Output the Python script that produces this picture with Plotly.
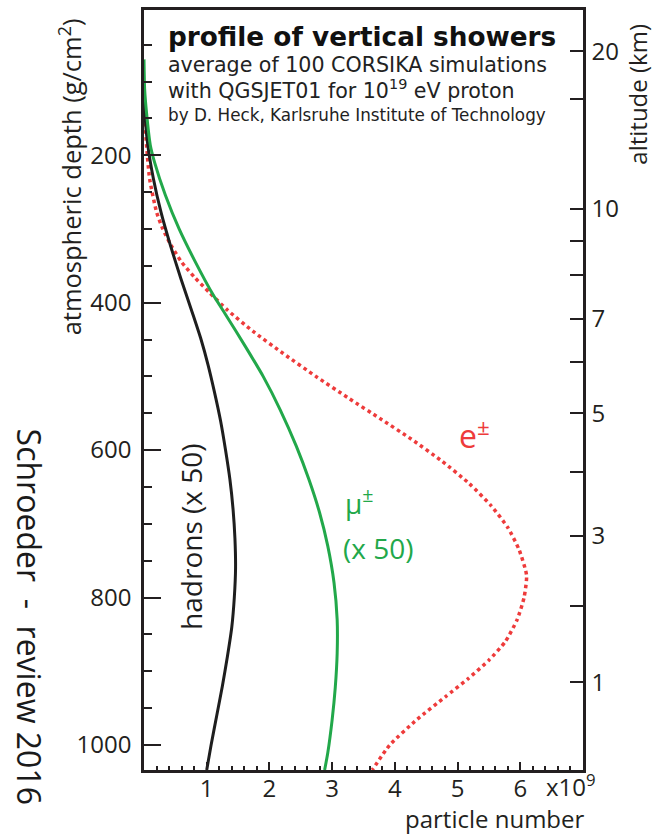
import plotly.graph_objects as go

# Longitudinal profiles of vertical 10^19 eV proton showers
# (particle number in units of 10^9 versus atmospheric depth in g/cm^2)

electron_depth = [128, 160, 186, 232, 277, 300, 322, 345, 365, 386, 410, 439, 469,
                  500, 530, 557, 585, 615, 645, 675, 705, 735, 770, 800, 830, 860,
                  885, 910, 935, 965, 1000, 1034]
electron_number = [0.00, 0.02, 0.04, 0.09, 0.20, 0.30, 0.43, 0.60, 0.80, 1.04, 1.33,
                   1.74, 2.22, 2.74, 3.27, 3.76, 4.26, 4.75, 5.18, 5.53, 5.80, 5.98,
                   6.10, 6.06, 5.95, 5.76, 5.50, 5.17, 4.80, 4.36, 3.92, 3.64]

muon_depth = [70, 110, 142, 186, 210, 254, 300, 345, 389, 416, 460, 500, 545, 595,
              640, 685, 730, 780, 830, 876, 922, 966, 1011, 1034]
muon_number_x50 = [0.00, 0.01, 0.04, 0.10, 0.17, 0.34, 0.56, 0.82, 1.10, 1.30, 1.62,
                   1.90, 2.17, 2.43, 2.63, 2.80, 2.93, 3.03, 3.08, 3.08, 3.05, 3.00,
                   2.93, 2.88]

hadron_depth = [110, 150, 186, 232, 277, 322, 368, 416, 450, 484, 520, 560, 600, 640,
                680, 720, 760, 800, 840, 880, 920, 960, 1000, 1034]
hadron_number_x50 = [0.00, 0.02, 0.06, 0.15, 0.27, 0.42, 0.59, 0.78, 0.91, 1.02, 1.12,
                     1.22, 1.30, 1.37, 1.42, 1.45, 1.46, 1.44, 1.40, 1.33, 1.25, 1.16,
                     1.07, 1.00]

# altitude scale (km) and the corresponding atmospheric depth (g/cm^2)
altitude_km = [20, 15, 10, 9, 8, 7, 6, 5, 4, 3, 2, 1]
altitude_depth = [59, 124, 273, 316, 362, 422, 481, 550, 630, 716, 811, 915]
altitude_labels = ["20", "", "10", "", "", "7", "", "5", "", "3", "", "1"]

depth_ticks = [200, 400, 600, 800, 1000]
number_ticks = [1, 2, 3, 4, 5, 6]

DEPTH_RANGE = [1034, 3]
NUMBER_RANGE = [0, 7]

INK = "#231f20"
RED = "#ee3b3b"
GREEN = "#22a84a"
BLACK = "#1e1e1e"
AXIS_FONT = "Open Sans"
HEAD_FONT = "DejaVu Sans"

fig = go.Figure()

fig.add_trace(go.Scatter(
    x=electron_number, y=electron_depth, mode="lines",
    line=dict(color=RED, width=3.5, dash="3.5px,3.5px", shape="spline", smoothing=0.6),
    hoverinfo="skip", showlegend=False))
fig.add_trace(go.Scatter(
    x=hadron_number_x50, y=hadron_depth, mode="lines",
    line=dict(color=BLACK, width=3, shape="spline", smoothing=0.6),
    hoverinfo="skip", showlegend=False))
fig.add_trace(go.Scatter(
    x=muon_number_x50, y=muon_depth, mode="lines",
    line=dict(color=GREEN, width=3, shape="spline", smoothing=0.6),
    hoverinfo="skip", showlegend=False))
# carrier trace for the altitude axis
fig.add_trace(go.Scatter(x=[None], y=[None], yaxis="y2", mode="lines",
                         hoverinfo="skip", showlegend=False))

tick_font = dict(family=AXIS_FONT, size=24, color=INK)

fig.update_layout(
    width=663, height=836,
    margin=dict(l=144, r=80, t=7, b=66),
    paper_bgcolor="white", plot_bgcolor="white",
    showlegend=False,
    xaxis=dict(
        range=NUMBER_RANGE, showgrid=False, zeroline=False,
        showline=True, linecolor=INK, linewidth=2.5, mirror=True,
        tickvals=number_ticks, ticks="inside", ticklen=8, tickwidth=2, tickcolor=INK,
        tickfont=tick_font, ticklabelstandoff=-5,
        minor=dict(dtick=0.2, tick0=0, ticks="inside", ticklen=4, tickwidth=2,
                   tickcolor=INK, showgrid=False),
    ),
    yaxis=dict(
        range=DEPTH_RANGE, showgrid=False, zeroline=False,
        showline=True, linecolor=INK, linewidth=2.5, mirror=True,
        tickvals=depth_ticks, ticks="inside", ticklen=17, tickwidth=2, tickcolor=INK,
        tickfont=tick_font, ticklabelstandoff=5,
        minor=dict(dtick=50, tick0=0, ticks="inside", ticklen=8, tickwidth=2,
                   tickcolor=INK, showgrid=False),
    ),
    yaxis2=dict(
        overlaying="y", side="right", range=DEPTH_RANGE,
        showgrid=False, zeroline=False,
        showline=True, linecolor=INK, linewidth=2.5,
        tickvals=altitude_depth, ticktext=altitude_labels,
        ticks="inside", ticklen=13, tickwidth=2, tickcolor=INK,
        tickfont=tick_font, ticklabelstandoff=1,
    ),
)


def px_x(px):
    return (px - 144) / 439


def px_y(py):
    return (770 - py) / 763


def note(text, x, y, size, color=INK, family=AXIS_FONT, angle=0,
         xanchor="center", yanchor="middle"):
    fig.add_annotation(text=text, x=px_x(x), y=px_y(y), xref="paper", yref="paper",
                       showarrow=False, textangle=angle, xanchor=xanchor,
                       yanchor=yanchor, font=dict(family=family, size=size, color=color))


# header block
note("<b>profile of vertical showers</b>", 166, 34, 26.3, color="#111111",
     family=HEAD_FONT, xanchor="left")
note("average of 100 CORSIKA simulations", 166, 62, 20.6, color="#222222",
     family=HEAD_FONT, xanchor="left")
note("with QGSJET01 for 10<sup>19</sup> eV proton", 166, 87, 20.6, color="#222222",
     family=HEAD_FONT, xanchor="left")
note("by D. Heck, Karlsruhe Institute of Technology", 166, 112, 16.8, color="#222222",
     family=HEAD_FONT, xanchor="left")

# axis titles
note("atmospheric depth (g/cm<sup>2</sup>)", 70, 175, 25.5, angle=-90)
note("altitude (km)", 638, 92, 24, angle=-90)
note("particle number", 495, 819, 24)
note("x10<sup>9</sup>", 544, 786, 24, xanchor="left")

# curve labels
note("e<sup>±</sup>", 457, 433, 32, color=RED, xanchor="left")
note("μ<sup>±</sup>", 343, 500, 28, color=GREEN, xanchor="left")
note("(x 50)", 341, 547, 28, color=GREEN, xanchor="left")
note("hadrons (x 50)", 191, 536, 28, color=BLACK, angle=-90)

# side credit
note("Schroeder  -  review 2016", 29, 616, 32, color="#1a1a1a", angle=90)

fig.write_html("out.html")
